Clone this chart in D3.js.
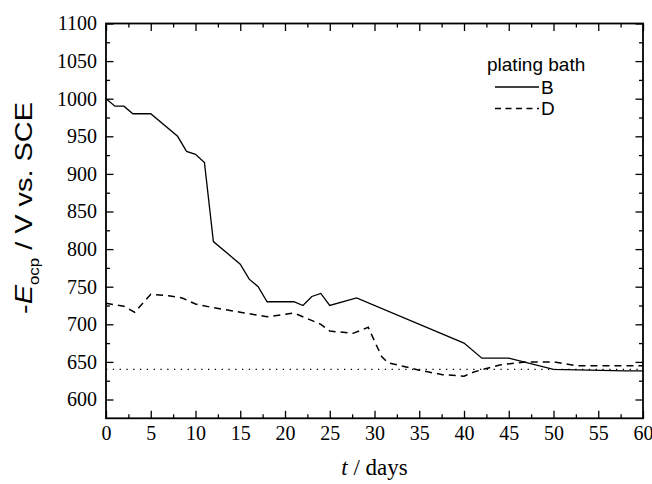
<!DOCTYPE html>
<html>

<head>
  <meta charset="utf-8" />
  <title>Eocp vs time</title>
  <style>
    body {
      margin: 0;
      background: #fff;
    }

    .tick text {
      font-family: "Liberation Serif", "Times New Roman", serif;
      font-size: 20px;
      fill: #000;
    }

    .tick line {
      stroke: #000;
      stroke-width: 1.3;
    }

    .domain {
      display: none;
    }
  </style>
  <script src="https://cdnjs.cloudflare.com/ajax/libs/d3/7.8.5/d3.min.js"></script>
</head>

<body>
  <div id="chartArea"></div>
  <script>
    // series B (solid)
    var daysB = [0, 1, 2, 3, 5, 8, 9, 10, 11, 12, 15, 16, 17, 18, 21, 22, 23, 24, 25, 28, 40, 42, 45, 50, 58, 60];
    var eocpB = [1000, 990, 990, 980, 980, 950, 930, 926, 915, 810, 780, 760, 750, 730, 730, 725, 737, 741, 725, 735, 675, 655, 655, 640, 638, 638];
    // series D (dashed)
    var daysD = [0, 2, 3.2, 5, 7, 8.5, 10, 11.6, 15, 18, 21, 22, 24, 25, 27.6, 29.3, 30.8, 31.5, 35, 37.6, 40, 41.2, 44, 47, 50, 52.5, 60];
    var eocpD = [728, 724, 716, 740, 738, 735, 727, 723, 716, 710, 715, 710, 700, 691, 688, 696, 657, 649, 639, 633, 631, 637, 646, 650, 650, 645, 645];
    var refLevel = 640;

    var xTicks = [0, 5, 10, 15, 20, 25, 30, 35, 40, 45, 50, 55, 60];
    var yTicks = [600, 650, 700, 750, 800, 850, 900, 950, 1000, 1050, 1100];
    var legendLabels = ['B', 'D'];

    var w = 652,
      h = 484;
    // note: "top" is a reserved window global, so use other names
    var padL = 106, padR = 643, padT = 23.5, padB = 418.3;

    var x = d3.scaleLinear().domain([0, 60]).range([padL, padR]);
    var y = d3.scaleLinear().domain([575, 1100]).range([padB, padT]);

    var svg = d3.select('#chartArea').append('svg')
      .attr('width', w)
      .attr('height', h);

    var xMinor = d3.range(2.5, 60, 5);
    var yMinor = d3.range(625, 1100, 50);

    function addAxis(axisFn, scale, pos, vals, size, labels, pad) {
      var ax = axisFn(scale).tickValues(vals).tickSize(size).tickSizeOuter(0).tickPadding(pad || 3);
      if (labels) ax.tickFormat(d3.format('d'));
      else ax.tickFormat('');
      svg.append('g').attr('transform', pos).call(ax);
    }

    addAxis(d3.axisBottom, x, 'translate(0,' + padB + ')', xTicks, -7.5, true, 8);
    addAxis(d3.axisBottom, x, 'translate(0,' + padB + ')', xMinor, -4, false);
    addAxis(d3.axisTop, x, 'translate(0,' + padT + ')', xTicks, -7.5, false);
    addAxis(d3.axisTop, x, 'translate(0,' + padT + ')', xMinor, -4, false);
    addAxis(d3.axisLeft, y, 'translate(' + padL + ',0)', yTicks, -7.5, true, 9);
    addAxis(d3.axisLeft, y, 'translate(' + padL + ',0)', yMinor, -4, false);
    addAxis(d3.axisRight, y, 'translate(' + padR + ',0)', yTicks, -7.5, false);
    addAxis(d3.axisRight, y, 'translate(' + padR + ',0)', yMinor, -4, false);

    // frame
    svg.append('rect')
      .attr('x', padL)
      .attr('y', padT)
      .attr('width', padR - padL)
      .attr('height', padB - padT)
      .attr('fill', 'none')
      .attr('stroke', '#000')
      .attr('stroke-width', 1.8);

    // dotted reference line
    svg.append('line')
      .attr('x1', x(0))
      .attr('x2', x(60))
      .attr('y1', y(refLevel))
      .attr('y2', y(refLevel))
      .attr('stroke', '#000')
      .attr('stroke-width', 1.3)
      .attr('stroke-dasharray', '1.3,5.5');

    var line = d3.line()
      .x(d => x(d[0]))
      .y(d => y(d[1]));

    svg.append('path')
      .datum(d3.zip(daysB, eocpB))
      .attr('d', line)
      .attr('fill', 'none')
      .attr('stroke', '#000')
      .attr('stroke-width', 1.3);

    svg.append('path')
      .datum(d3.zip(daysD, eocpD))
      .attr('d', line)
      .attr('fill', 'none')
      .attr('stroke', '#000')
      .attr('stroke-width', 1.5)
      .attr('stroke-dasharray', '7,5');

    // legend
    svg.append('text')
      .attr('x', 487)
      .attr('y', 71)
      .attr('font-family', '"Liberation Sans", Arial, sans-serif')
      .attr('font-size', 19)
      .text('plating bath');
    var dashes = [null, '6,4.5'];
    legendLabels.forEach(function (lab, i) {
      var ly = 87 + i * 21.5;
      svg.append('line')
        .attr('x1', 495).attr('x2', 539)
        .attr('y1', ly).attr('y2', ly)
        .attr('stroke', '#000')
        .attr('stroke-width', 1.3)
        .attr('stroke-dasharray', dashes[i]);
      svg.append('text')
        .attr('x', 541)
        .attr('y', ly + 6.5)
        .attr('font-family', '"Liberation Sans", Arial, sans-serif')
        .attr('font-size', 19)
        .text(lab);
    });

    // x title
    var xt = svg.append('text')
      .attr('x', (padL + padR) / 2)
      .attr('y', 475)
      .attr('text-anchor', 'middle')
      .attr('font-family', '"Liberation Serif", "Times New Roman", serif')
      .attr('font-size', 23);
    xt.append('tspan').attr('font-style', 'italic').text('t');
    xt.append('tspan').text(' / days');

    // y title
    var yt = svg.append('text')
      .attr('transform', 'translate(32,208) rotate(-90)')
      .attr('text-anchor', 'middle')
      .attr('font-family', '"Liberation Sans", Arial, sans-serif')
      .attr('font-size', 24)
      .attr('textLength', 212)
      .attr('lengthAdjust', 'spacingAndGlyphs');
    yt.append('tspan').text('-');
    yt.append('tspan').attr('font-style', 'italic').text('E');
    yt.append('tspan').attr('font-size', 14).attr('dy', 7).text('ocp');
    yt.append('tspan').attr('dy', -7).text(' / V vs. SCE');
  </script>
</body>

</html>
